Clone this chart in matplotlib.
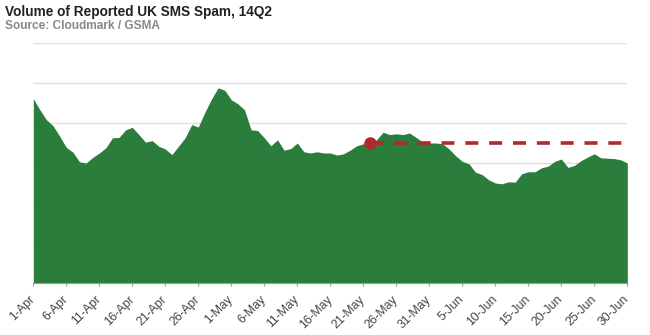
import matplotlib
matplotlib.use("Agg")
import matplotlib.pyplot as plt
import numpy as np

plt.rcParams['font.family'] = ['Liberation Sans', 'DejaVu Sans']

# daily reported spam volume, 1-Apr .. 30-Jun 2014 (arbitrary units)
spam_volume = [
    461, 433, 408, 393, 367, 339, 327, 303, 300, 314,
    325, 338, 363, 364, 383, 389, 371, 352, 356, 342,
    335, 321, 342, 363, 396, 390, 427, 460, 488, 482,
    458, 448, 433, 383, 381, 363, 343, 358, 332, 336,
    350, 328, 325, 328, 325, 325, 320, 323, 332, 343,
    348, 352, 358, 377, 371, 373, 371, 375, 364, 352,
    350, 350, 348, 335, 318, 304, 298, 277, 271, 258,
    250, 248, 253, 252, 273, 278, 278, 288, 292, 304,
    310, 289, 294, 306, 315, 323, 313, 312, 311, 308,
    300,
]

tick_labels = ["1-Apr", "6-Apr", "11-Apr", "16-Apr", "21-Apr", "26-Apr", "1-May",
               "6-May", "11-May", "16-May", "21-May", "26-May", "31-May", "5-Jun",
               "10-Jun", "15-Jun", "20-Jun", "25-Jun", "30-Jun"]

# reference level marked in red from 22-May onwards
ref_start_day = 51
ref_level = 350

green = "#2b7d3c"
red = "#b0292b"

days = np.arange(len(spam_volume))
tick_pos = np.arange(0, len(spam_volume), 5)

fig = plt.figure(figsize=(6.5, 3.35), dpi=100)
ax = fig.add_axes([33.3 / 650, 1 - 283 / 335, (627.3 - 33.3) / 650, 240 / 335])

ax.fill_between(days, 0, spam_volume, color=green, lw=0, zorder=2)

ref_days = days[ref_start_day:]
ax.plot(ref_days, [ref_level] * len(ref_days), color=red, lw=2.6,
        linestyle=(0, (3.6, 3.0)), zorder=4)
ax.plot([ref_start_day], [ref_level], 'o', color=red, markersize=8, zorder=5)

ax.set_xlim(0, len(spam_volume) - 1)
ax.set_ylim(0, 600)
ax.set_yticks(np.arange(0, 601, 100))
ax.yaxis.grid(True, color="#dddddd", lw=0.9, zorder=0)
ax.set_axisbelow(True)
ax.tick_params(axis='y', left=False, labelleft=False)

ax.set_xticks(tick_pos)
ax.set_xticklabels(tick_labels, rotation=45, ha='right', va='center',
                   rotation_mode='anchor', fontsize=8.8, color="#444444")
ax.tick_params(axis='x', length=2.5, color="#999999", pad=8)

for s in ['top', 'right', 'left']:
    ax.spines[s].set_visible(False)
ax.spines['bottom'].set_color("#999999")
ax.spines['bottom'].set_zorder(3)

fig.text(5 / 650, 1 - 12 / 335, "Volume of Reported UK SMS Spam, 14Q2",
         fontsize=9.8, fontweight='bold', color="#222222", va='center')
fig.text(5 / 650, 1 - 26 / 335, "Source: Cloudmark / GSMA",
         fontsize=8.6, fontweight='bold', color="#888888", va='center')

fig.savefig("out.png", dpi=100)
